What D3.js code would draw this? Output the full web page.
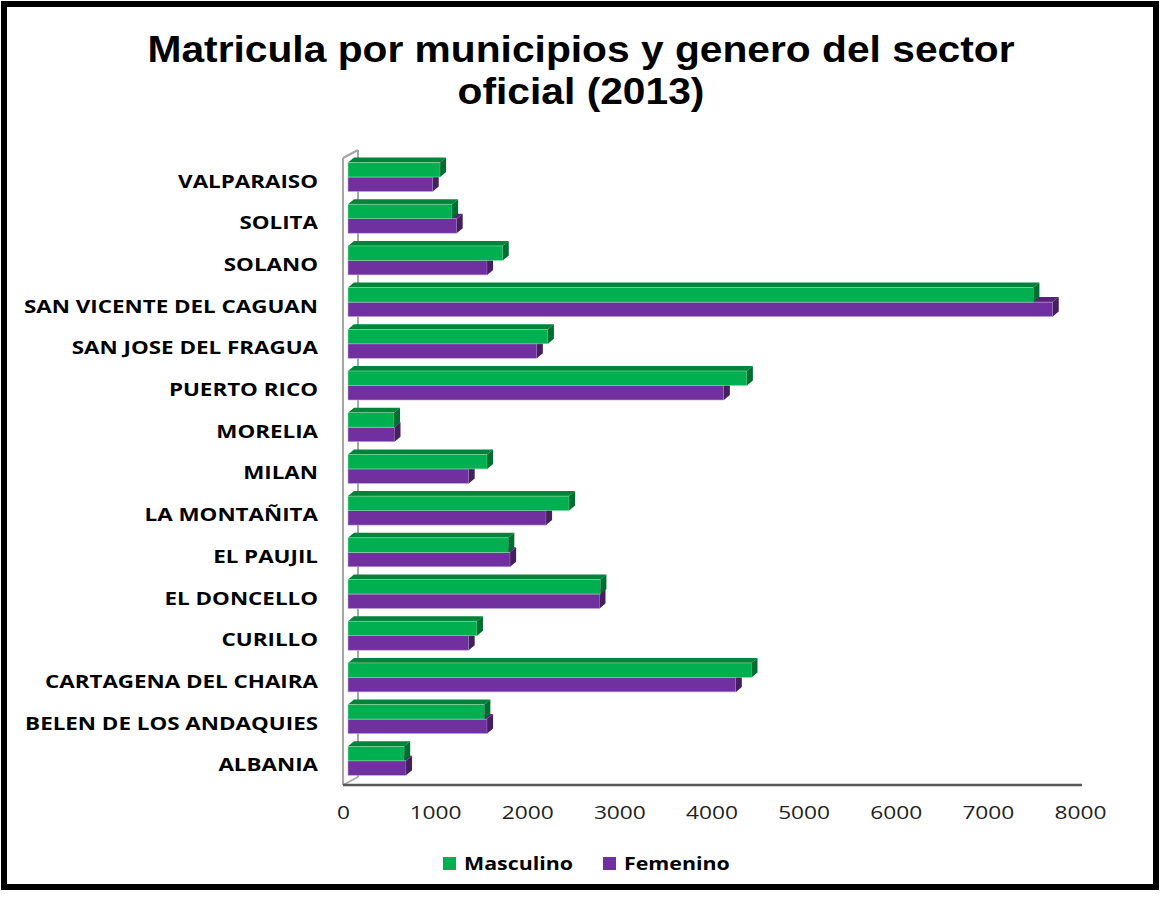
<!DOCTYPE html>
<html>
<head>
<meta charset="utf-8">
<script src="https://cdn.jsdelivr.net/npm/d3@7"></script>
<style>
  html, body { margin: 0; padding: 0; background: #ffffff; }
  svg { display: block; }
</style>
</head>
<body>
<script>
// ---------------- DATA ----------------
const categories = [
  "ALBANIA", "BELEN DE LOS ANDAQUIES", "CARTAGENA DEL CHAIRA", "CURILLO",
  "EL DONCELLO", "EL PAUJIL", "LA MONTAÑITA", "MILAN", "MORELIA",
  "PUERTO RICO", "SAN JOSE DEL FRAGUA", "SAN VICENTE DEL CAGUAN",
  "SOLANO", "SOLITA", "VALPARAISO"
];
const masculino = [610, 1480, 4380, 1400, 2740, 1740, 2400, 1510, 500, 4330, 2170, 7440, 1680, 1130, 1000];
const femenino  = [630, 1510, 4210, 1310, 2730, 1760, 2150, 1310, 505, 4080, 2050, 7650, 1510, 1180, 920];
const seriesNames = ["Masculino", "Femenino"];
const tickValues = [0, 1000, 2000, 3000, 4000, 5000, 6000, 7000, 8000];
const titleLines = ["Matricula por municipios y genero del sector", "oficial (2013)"];

// ---------------- STYLE ----------------
const W = 1162, H = 897;
const bodyFont = "\"Open Sans\", \"Liberation Sans\", sans-serif";
const titleFont = "\"Liberation Sans\", Arial, sans-serif";
const colFront = { Masculino: "#00b050", Femenino: "#7030a0" };
const colTop   = { Masculino: "#00843a", Femenino: "#55247a" };
const colSide  = { Masculino: "#006e30", Femenino: "#45205f" };
const colEdge  = { Masculino: "#8fd6a9", Femenino: "#c2a6dc" };

const svg = d3.select("body").append("svg").attr("width", W).attr("height", H);
svg.append("rect").attr("width", W).attr("height", H).attr("fill", "#fff");

function fitGroup(sel, factor) {
  sel.each(function () {
    const w = this.getComputedTextLength();
    d3.select(this).attr("textLength", w * factor).attr("lengthAdjust", "spacingAndGlyphs");
  });
}
function measure(str, size, weight, family) {
  const t = svg.append("text").style("font-family", family).attr("font-size", size).attr("font-weight", weight).text(str);
  const w = t.node().getComputedTextLength();
  t.remove();
  return w;
}

// ---------------- SCALES ----------------
const order = categories.slice().reverse(); // VALPARAISO on top
const step = 41.7;
const y = d3.scaleBand().domain(order).range([177 - step / 2, 177 - step / 2 + step * order.length]).padding(0);
const x = d3.scaleLinear().domain([0, 8000]).range([343, 1080]);
const barShift = 5;
const dx = 6, dy = -5;
const wallDx = 15, wallDy = -8;
const barH = 14.5;

// ---------------- WALL & FLOOR ----------------
const wallTop = 158, floorY = 785;
const g = svg.append("g");
g.append("line").attr("x1", x(0)).attr("y1", wallTop).attr("x2", x(0)).attr("y2", floorY)
  .attr("stroke", "#a6a6a6").attr("stroke-width", 2);
g.append("line").attr("x1", x(0) + wallDx).attr("y1", wallTop + wallDy).attr("x2", x(0) + wallDx).attr("y2", floorY + wallDy)
  .attr("stroke", "#a6a6a6").attr("stroke-width", 2);
g.append("line").attr("x1", x(0)).attr("y1", wallTop).attr("x2", x(0) + wallDx).attr("y2", wallTop + wallDy)
  .attr("stroke", "#a6a6a6").attr("stroke-width", 2);
g.append("line").attr("x1", x(0)).attr("y1", floorY).attr("x2", x(0) + wallDx).attr("y2", floorY + wallDy)
  .attr("stroke", "#a6a6a6").attr("stroke-width", 1.5);

// ---------------- BARS ----------------
const rows = categories.map((c, i) => ({ c, Masculino: masculino[i], Femenino: femenino[i] }));

function drawBar(sel, name, y0, v) {
  const x0 = x(0) + barShift;
  const x1 = x(v) + barShift;
  const y1 = y0 + barH;
  sel.append("path")
    .attr("d", `M${x0},${y0} L${x0 + dx},${y0 + dy} L${x1 + dx},${y0 + dy} L${x1},${y0} Z`)
    .attr("fill", colTop[name]);
  sel.append("rect").attr("x", x0).attr("y", y0).attr("width", x1 - x0).attr("height", barH)
    .attr("fill", colFront[name]).attr("stroke", colEdge[name]).attr("stroke-width", 0.6);
  sel.append("path")
    .attr("d", `M${x1},${y0} L${x1 + dx},${y0 + dy} L${x1 + dx},${y1 + dy} L${x1},${y1} Z`)
    .attr("fill", colSide[name]);
}

const bars = svg.append("g");
rows.forEach(r => {
  const b = y(r.c) + y.bandwidth() / 2;
  const grp = bars.append("g");
  drawBar(grp, "Femenino", b, r.Femenino);
  drawBar(grp, "Masculino", b - barH, r.Masculino);
});

svg.append("line").attr("x1", x(0)).attr("y1", floorY).attr("x2", x(8000) + 2).attr("y2", floorY)
  .attr("stroke", "#595959").attr("stroke-width", 2.5);

// ---------------- CATEGORY LABELS ----------------
const labSize = 18;
const labFactor = 294 / measure("SAN VICENTE DEL CAGUAN", labSize, 700, bodyFont);
const labels = svg.append("g").selectAll("text").data(order).join("text")
  .style("font-family", bodyFont)
  .attr("x", 318)
  .attr("y", d => y(d) + y.bandwidth() / 2 + 10.5)
  .attr("text-anchor", "end")
  .attr("font-size", labSize).attr("font-weight", 700).attr("fill", "#000")
  .text(d => d);
fitGroup(labels, labFactor);

// ---------------- X AXIS ----------------
const tickSize = 19;
const tickFactor = 52 / measure("1000", tickSize, 400, bodyFont);
const axis = svg.append("g").attr("transform", `translate(0,${floorY})`)
  .call(d3.axisBottom(x).tickValues(tickValues).tickSize(0).tickPadding(0).tickFormat(d3.format("d")));
axis.select(".domain").remove();
axis.selectAll("text")
  .attr("dy", null).attr("y", 34)
  .style("font-family", bodyFont)
  .attr("font-size", tickSize).attr("fill", "#222");
fitGroup(axis.selectAll("text"), tickFactor);

// ---------------- LEGEND ----------------
const legSize = 18;
const legFactor = 109 / measure("Masculino", legSize, 700, bodyFont);
const legX = [443, 603];
const leg = svg.append("g");
seriesNames.forEach((s, i) => {
  leg.append("rect").attr("x", legX[i]).attr("y", 857).attr("width", 13).attr("height", 13).attr("fill", colFront[s]);
  const t = leg.append("text").attr("x", legX[i] + 21).attr("y", 870)
    .style("font-family", bodyFont)
    .attr("font-size", legSize).attr("font-weight", 700).attr("fill", "#000").text(s);
  fitGroup(t, legFactor);
});

// ---------------- TITLE ----------------
const titleSize = 36.5;
const titleFactor = 867 / measure(titleLines[0], titleSize, 700, titleFont);
const title = svg.append("g").selectAll("text").data(titleLines).join("text")
  .style("font-family", titleFont)
  .attr("x", 581).attr("y", (d, i) => 62 + i * 41.5)
  .attr("text-anchor", "middle")
  .attr("font-size", titleSize).attr("font-weight", 700).attr("fill", "#000")
  .text(d => d);
fitGroup(title, titleFactor);

// ---------------- BORDER ----------------
svg.append("rect").attr("x", 4).attr("y", 4).attr("width", 1152).attr("height", 883)
  .attr("fill", "none").attr("stroke", "#000").attr("stroke-width", 6);
</script>
</body>
</html>
